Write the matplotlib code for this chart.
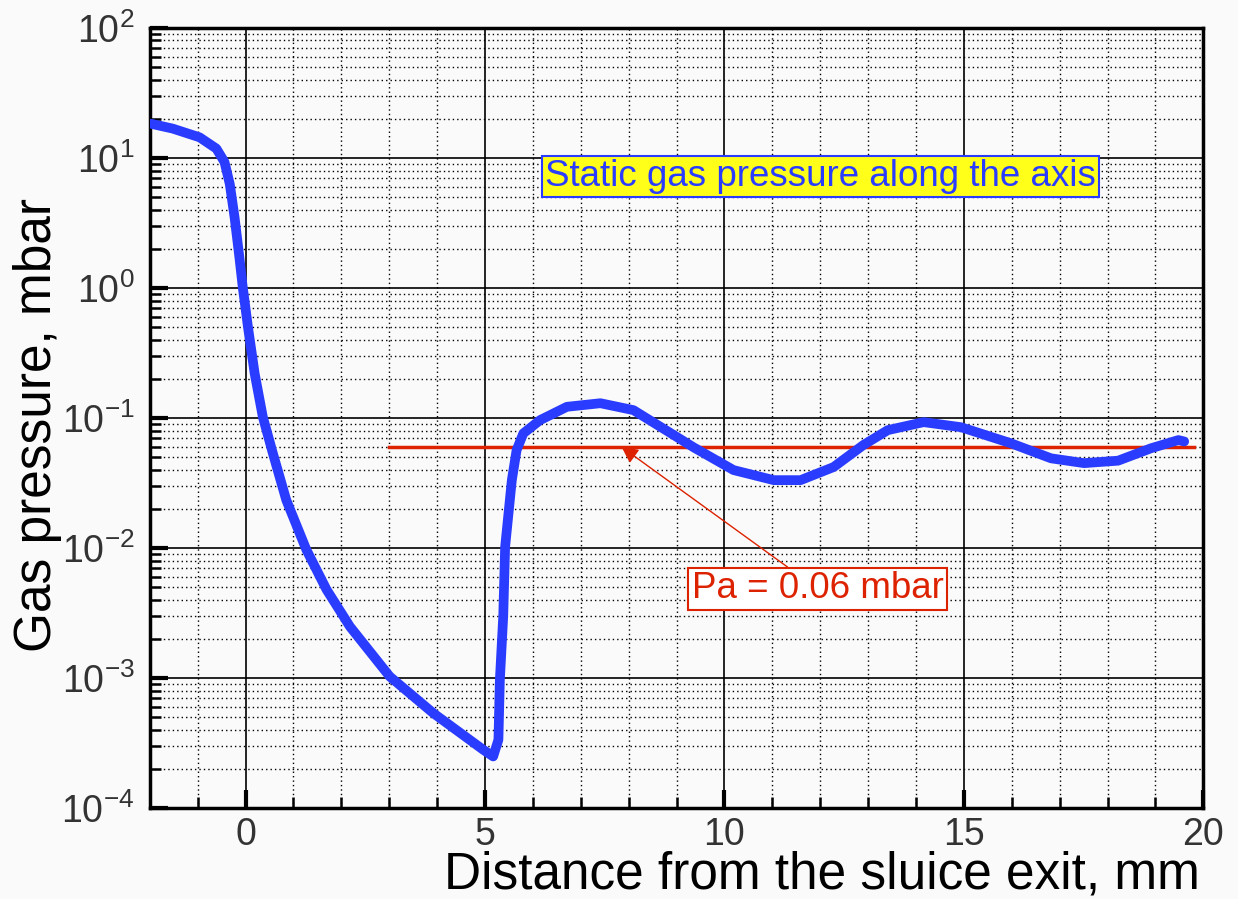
import matplotlib.pyplot as plt
import numpy as np
from matplotlib.ticker import MultipleLocator, FixedLocator, NullFormatter

plt.rcParams['font.family'] = ['Liberation Sans', 'DejaVu Sans']
plt.rcParams['mathtext.fontset'] = 'custom'
plt.rcParams['mathtext.rm'] = 'Liberation Sans'
plt.rcParams['axes.unicode_minus'] = False

# distance from sluice exit (mm) and static pressure (mbar)
dist = [-1.97, -1.52, -0.96, -0.61, -0.44, -0.33, -0.23, -0.13, -0.06, 0.05, 0.19,
        0.36, 0.57, 0.85, 1.27, 1.69, 2.18, 3.01, 3.92, 4.96, 5.17, 5.28, 5.31,
        5.38, 5.42, 5.56, 5.66, 5.80, 6.15, 6.71, 7.41, 8.10, 9.35, 10.19, 11.03,
        11.59, 12.28, 12.90, 13.41, 14.16, 14.94, 15.98, 16.82, 17.51, 18.22,
        18.91, 19.48, 19.6]
pressure = [18.3, 16.8, 14.4, 11.8, 9.3, 6.3, 3.5, 1.73, 1.02, 0.50, 0.22,
            0.102, 0.0535, 0.0234, 0.0097, 0.0048, 0.00249, 0.00103, 5.38e-4,
            2.82e-4, 2.5e-4, 3.36e-4, 9.7e-4, 2.97e-3, 0.0102, 0.0333, 0.0567,
            0.0762, 0.0964, 0.122, 0.130, 0.115, 0.0597, 0.0398, 0.0333, 0.0333,
            0.042, 0.062, 0.0807, 0.093, 0.085, 0.064, 0.049, 0.045, 0.047,
            0.0586, 0.0677, 0.066]

decades = [-4, -3, -2, -1, 0, 1, 2]
pa_x = [3.0, 19.8]
pa_val = 0.06

fig = plt.figure(figsize=(12.38, 8.99), dpi=100, facecolor='#fafafa')
ax = fig.add_axes([0.121, 0.101, 0.851, 0.868], facecolor='#fafafa')

ax.set_yscale('log')
ax.set_xlim(-2, 20)
ax.set_ylim(1e-4, 1e2)

ax.xaxis.set_major_locator(MultipleLocator(5))
ax.xaxis.set_minor_locator(MultipleLocator(1))
ax.yaxis.set_major_locator(FixedLocator([10.0 ** d for d in decades]))
ax.yaxis.set_minor_locator(FixedLocator([m * 10.0 ** d for d in decades[:-1] for m in range(2, 10)]))
ax.yaxis.set_minor_formatter(NullFormatter())

ax.grid(True, which='major', color='black', linewidth=1.2, linestyle='-')
ax.grid(True, which='minor', color='black', linewidth=1.0, linestyle=(0, (1, 2.2)))
ax.set_axisbelow(True)

ax.tick_params(which='major', direction='in', length=13, width=3, labelsize=27,
               colors='black', labelcolor='#333333')
ax.tick_params(axis='y', which='major', pad=11)
ax.tick_params(axis='x', which='major', pad=6)
ax.tick_params(which='minor', direction='in', length=8, width=1.8)
ax.tick_params(top=False, right=False, which='both')
for s in ax.spines.values():
    s.set_linewidth(2.5)

ax.plot(pa_x, [pa_val, pa_val], color='#dd2200', linewidth=2.5, zorder=3)
ax.plot(dist, pressure, color='#2a3cff', linewidth=7, solid_capstyle='round',
        solid_joinstyle='round', zorder=4)

ax.text(12.0, 7.2, 'Static gas pressure along the axis', color='#2a3cff',
        fontsize=26.5, ha='center', va='center', zorder=5,
        bbox=dict(boxstyle='square,pad=0.08', facecolor='#ffff1a', edgecolor='#2a3cff', linewidth=1.5))

ax.annotate('Pa = 0.06 mbar', xy=(7.85, pa_val), xytext=(11.95, 0.00485),
            color='#dd2200', fontsize=26.5, ha='center', va='center', zorder=5,
            bbox=dict(boxstyle='square,pad=0.1', facecolor='white', edgecolor='#dd2200', linewidth=1.5),
            arrowprops=dict(arrowstyle='-|>', color='#dd2200', linewidth=1.0,
                            mutation_scale=25, shrinkA=0, shrinkB=0))

fig.text(0.969, 0.012, 'Distance from the sluice exit, mm', fontsize=37,
         ha='right', va='baseline', color='black')
fig.text(0.030, 0.527, 'Gas pressure, mbar', fontsize=37, rotation=90,
         ha='center', va='center', color='black')

fig.savefig('out.png', dpi=100, facecolor=fig.get_facecolor())
